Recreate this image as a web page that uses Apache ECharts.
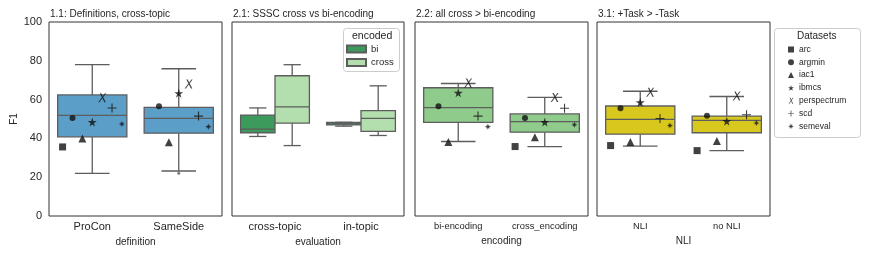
<!DOCTYPE html>
<html><head><meta charset="utf-8">
<script src="https://cdn.jsdelivr.net/npm/echarts@6/dist/echarts.min.js"></script>
<style>html,body{margin:0;padding:0;background:#fff}#c{width:872px;height:257px}</style>
</head><body><div id="c"></div>
<script>
// ---------------- DATA ----------------
const datasets = ['arc', 'argmin', 'iac1', 'ibmcs', 'perspectrum', 'scd', 'semeval'];
const yTicks = [0, 20, 40, 60, 80, 100];

// Panel 1.1
const p1Categories = ['ProCon', 'SameSide'];
const p1Boxes = [[22.0, 40.8, 51.9, 62.4, 78.0], [23.2, 42.7, 50.3, 56.0, 75.9]]; // min,q1,med,q3,max
const p1Fliers = [[1, 22.0]];
const p1Points = {
  arc: [35.6, null], argmin: [50.5, 56.6], iac1: [40.0, 38.0], ibmcs: [48.4, 63.3],
  perspectrum: [61.0, 68.1], scd: [55.7, 51.5], semeval: [47.4, 46.0]
};

// Panel 2.1
const p2Categories = ['cross-topic', 'in-topic'];
const p2Hues = ['bi', 'cross'];
const p2BoxesBi = [[41.0, 42.9, 44.8, 52.0, 55.7], [46.3, 47.0, 47.5, 48.2, 48.3]];
const p2BoxesCross = [[36.3, 47.9, 56.2, 72.3, 78.0], [41.5, 43.6, 50.3, 54.3, 67.1]];

// Panel 2.2
const p3Categories = ['bi-encoding', 'cross_encoding'];
const p3Boxes = [[38.4, 48.3, 55.9, 66.1, 68.3], [35.8, 43.2, 48.6, 52.6, 61.1]];
const p3Points = {
  arc: [null, 35.8], argmin: [56.6, 50.5], iac1: [38.2, 40.6], ibmcs: [63.5, 48.4],
  perspectrum: [68.5, 61.1], scd: [51.5, 55.5], semeval: [46.0, 47.0]
};

// Panel 3.1
const p4Categories = ['NLI', 'no NLI'];
const p4Boxes = [[36.0, 42.2, 49.8, 56.7, 64.3], [33.7, 42.9, 49.3, 51.5, 61.6]];
const p4Points = {
  arc: [36.3, 33.7], argmin: [55.5, 51.7], iac1: [38.2, 38.6], ibmcs: [58.6, 48.9],
  perspectrum: [63.8, 61.8], scd: [50.3, 52.2], semeval: [46.7, 47.9]
};

const titles = ['1.1: Definitions, cross-topic', '2.1: SSSC cross vs bi-encoding', '2.2: all cross > bi-encoding', '3.1: +Task > -Task'];
const axisNames = ['definition', 'evaluation', 'encoding', 'NLI'];

// ---------------- STYLE ----------------
const FONT = "'Liberation Sans', Arial, sans-serif";
const TXT = '#262626';
const EDGE = '#5d5d5d';
const grids = [
  { left: 49, top: 22, width: 173, height: 194 },
  { left: 232, top: 22, width: 172, height: 194 },
  { left: 415, top: 22, width: 173, height: 194 },
  { left: 597, top: 22, width: 173, height: 194 }
];
const symbols = {
  arc: { symbol: 'rect', size: 7 },
  argmin: { symbol: 'circle', size: 6 },
  iac1: { symbol: 'triangle', size: 8 },
  ibmcs: { symbol: 'path://M50,0 L61,35 L98,35 L68,57 L79,91 L50,70 L21,91 L32,57 L2,35 L39,35 Z', size: 9 },
  perspectrum: { symbol: 'path://M2,0 L3.6,0 L9,12 L7.4,12 Z M8,0 L9.4,0 L1.4,12 L0,12 Z', size: [8, 9] },
  scd: { symbol: 'path://M4.4,0 L5.6,0 L5.6,4.4 L10,4.4 L10,5.6 L5.6,5.6 L5.6,10 L4.4,10 L4.4,5.6 L0,5.6 L0,4.4 L4.4,4.4 Z', size: 9 },
  semeval: { symbol: 'path://M5,0 L6,3.5 L8.5,1.5 L6.5,4 L10,5 L6.5,6 L8.5,8.5 L6,6.5 L5,10 L4,6.5 L1.5,8.5 L3.5,6 L0,5 L3.5,4 L1.5,1.5 L4,3.5 Z', size: 6.5 }
};

function boxRender(halfW, fill) {
  return function (params, api) {
    const x = api.value(0);
    const v = [1, 2, 3, 4, 5].map(i => api.value(i));
    const c = (xx, yy) => api.coord([xx, yy]);
    const tl = c(x - halfW, v[3]);
    const br = c(x + halfW, v[1]);
    const ls = { stroke: EDGE, lineWidth: 1.3 };
    const capH = halfW / 2;
    const line = (a, b) => ({ type: 'line', shape: { x1: a[0], y1: a[1], x2: b[0], y2: b[1] }, style: ls });
    return {
      type: 'group',
      children: [
        line(c(x, v[3]), c(x, v[4])),
        line(c(x, v[1]), c(x, v[0])),
        line(c(x - capH, v[4]), c(x + capH, v[4])),
        line(c(x - capH, v[0]), c(x + capH, v[0])),
        { type: 'rect', shape: { x: tl[0], y: tl[1], width: br[0] - tl[0], height: br[1] - tl[1] },
          style: { fill: fill, stroke: EDGE, lineWidth: 1.3 } },
        line(c(x - halfW, v[2]), c(x + halfW, v[2]))
      ]
    };
  };
}

const xAxes = [], yAxes = [], series = [];
const catsAll = [p1Categories, p2Categories, p3Categories, p4Categories];
catsAll.forEach((cats, g) => {
  const small = g >= 2;
  xAxes.push({
    gridIndex: g, type: 'category', data: cats,
    axisLine: { show: false }, axisTick: { show: false },
    axisLabel: { fontSize: small ? 9.4 : 11, color: TXT, fontFamily: FONT, margin: small ? 6 : 5 },
    name: axisNames[g], nameLocation: 'middle', nameGap: small ? 18 : 19,
    nameTextStyle: { fontSize: 10, color: TXT, fontFamily: FONT }
  });
  xAxes.push({ gridIndex: g, type: 'value', min: -0.5, max: 1.5, show: false });
  yAxes.push({
    gridIndex: g, type: 'value', min: 0, max: 100, interval: 20,
    splitLine: { show: false }, axisLine: { show: false }, axisTick: { show: false },
    axisLabel: { show: g === 0, fontSize: 11, color: TXT, fontFamily: FONT, margin: 7 },
    name: g === 0 ? 'F1' : '', nameLocation: 'middle', nameGap: 30,
    nameTextStyle: { fontSize: 10, color: TXT, fontFamily: FONT }
  });
});

function addBoxSeries(name, g, boxes, offset, halfW, fill) {
  series.push({
    type: 'custom', name: name, xAxisIndex: 2 * g + 1, yAxisIndex: g,
    renderItem: boxRender(halfW, fill),
    itemStyle: { color: fill, borderColor: EDGE, borderWidth: 1 },
    encode: { x: 0, y: [1, 2, 3, 4, 5] },
    data: boxes.map((b, i) => [i + offset].concat(b)),
    z: 2, silent: true
  });
}
addBoxSeries('box1', 0, p1Boxes, 0, 0.4, '#5b9ec8');
addBoxSeries('bi', 1, p2BoxesBi, -0.2, 0.2, '#3c9a5c');
addBoxSeries('cross', 1, p2BoxesCross, 0.2, 0.2, '#b3dfae');
addBoxSeries('box3', 2, p3Boxes, 0, 0.4, '#8fcb8b');
addBoxSeries('box4', 3, p4Boxes, 0, 0.4, '#d8c81e');

series.push({
  type: 'scatter', name: 'flier', xAxisIndex: 1, yAxisIndex: 0, symbol: 'circle', symbolSize: 3,
  itemStyle: { color: '#5d5d5d' }, data: p1Fliers, z: 3, silent: true
});

[[0, p1Points], [2, p3Points], [3, p4Points]].forEach(([g, pts]) => {
  datasets.forEach((name, d) => {
    const off = (d - 3) * 0.8 / 7;
    const data = [];
    pts[name].forEach((v, i) => { if (v !== null) data.push([i + off, v]); });
    series.push({
      type: 'scatter', name: name, xAxisIndex: 2 * g + 1, yAxisIndex: g,
      symbol: symbols[name].symbol, symbolSize: symbols[name].size,
      itemStyle: { color: '#111' }, data: data, z: 4, silent: true
    });
  });
});

const chart = echarts.init(document.getElementById('c'), null, { renderer: 'canvas' });
chart.setOption({
  animation: false,
  backgroundColor: '#fff',
  textStyle: { fontFamily: FONT },
  title: titles.map((t, g) => ({
    text: t, left: grids[g].left + 1, top: 9, padding: 0,
    textStyle: { fontSize: 10, fontWeight: 'normal', color: TXT, fontFamily: FONT }
  })),
  grid: grids.map(gr => Object.assign({ show: true, borderColor: '#333', borderWidth: 1, containLabel: false }, gr)),
  xAxis: xAxes,
  yAxis: yAxes,
  legend: [
    {
      data: p2Hues, orient: 'vertical', left: 346, top: 44, itemWidth: 19, itemHeight: 7, itemGap: 3.5,
      icon: 'rect', selectedMode: false, padding: 0, z: 10,
      textStyle: { fontSize: 9.5, color: TXT, fontFamily: FONT }
    },
    {
      data: datasets, orient: 'vertical', left: 788, top: 45, itemWidth: 6, itemHeight: 6, itemGap: 3.8,
      selectedMode: false, padding: 0, z: 10,
      textStyle: { fontSize: 8.5, color: TXT, fontFamily: FONT }
    }
  ],
  graphic: [
    { type: 'rect', left: 343, top: 28, shape: { width: 56, height: 43, r: 3 },
      style: { fill: '#fff', stroke: '#cccccc', lineWidth: 1 }, z: 3 },
    { type: 'text', left: 352, top: 31, style: { text: 'encoded', fontSize: 10.5, fill: TXT, fontFamily: FONT }, z: 6 },
    { type: 'rect', left: 774, top: 28, shape: { width: 86, height: 109, r: 3 },
      style: { fill: '#fff', stroke: '#cccccc', lineWidth: 1 }, z: 0 },
    { type: 'text', left: 797, top: 31, style: { text: 'Datasets', fontSize: 10, fill: TXT, fontFamily: FONT }, z: 6 }
  ],
  series: series
});
</script>
</body></html>
